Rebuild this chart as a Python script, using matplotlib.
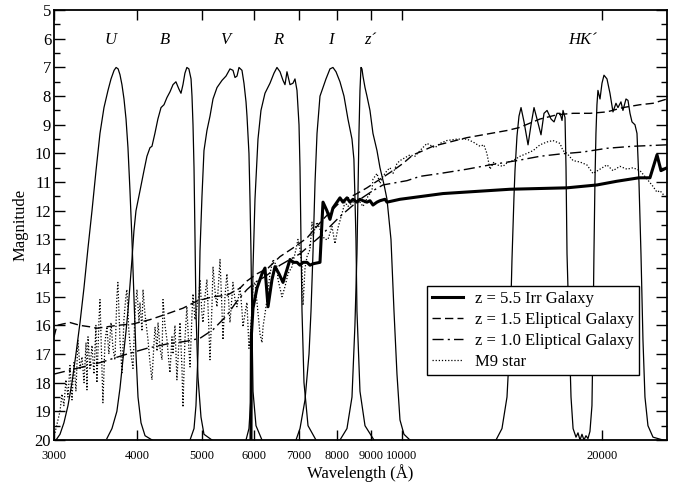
""" Magnitude vs wavelength: filter curves with galaxy / star templates """

import matplotlib
matplotlib.use("Agg")
import matplotlib.pyplot as plt
from matplotlib.ticker import FixedLocator, NullLocator, MultipleLocator

plt.rcParams['font.family'] = 'serif'
plt.rcParams['font.serif'] = ['Liberation Serif', 'DejaVu Serif']

# Filter transmission curves, drawn on the magnitude scale (wavelength in A, mag)
u_wl = [3021, 3063, 3105, 3149, 3193, 3237, 3283, 3328, 3375, 3422, 3470, 3518, 3567, 3617,
        3655, 3694, 3720, 3746, 3770, 3796, 3823, 3850, 3876, 3903, 3930, 3957, 3985, 4013,
        4055, 4112, 4214]
u_mag = [20.0, 19.8, 19.4, 18.8, 18.0, 17.0, 15.9, 14.7, 13.3, 12.0, 10.6, 9.3, 8.4, 7.8,
         7.4, 7.1, 7.0, 7.05, 7.25, 7.6, 8.1, 8.8, 9.8, 11.3, 13.0, 15.0, 17.0, 18.5,
         19.4, 19.85, 20.0]

b_wl = [3603, 3667, 3730, 3770, 3809, 3850, 3876, 3903, 3930, 3957, 3985, 4041, 4097, 4139,
        4183, 4212, 4255, 4299, 4346, 4391, 4436, 4483, 4530, 4576, 4623, 4657, 4689, 4721,
        4753, 4786, 4822, 4838, 4855, 4872, 4889, 4905, 4939, 4991, 5043, 5185]
b_mag = [19.95, 19.6, 19.0, 18.2, 17.2, 16.2, 15.5, 14.6, 13.7, 12.7, 12.0, 11.3, 10.6, 10.1,
         9.8, 9.75, 9.3, 8.8, 8.4, 8.3, 8.05, 7.85, 7.6, 7.5, 7.75, 7.9, 7.6, 7.2,
         7.0, 7.05, 7.4, 8.0, 9.0, 10.5, 13.0, 15.5, 17.8, 19.2, 19.8, 20.0]

v_wl = [4805, 4872, 4905, 4939, 4956, 4974, 5008, 5043, 5095, 5149, 5203, 5276, 5368, 5443,
        5518, 5576, 5615, 5654, 5693, 5752, 5792, 5833, 5853, 5893, 5914, 5934, 5955, 5976,
        6038, 6165]
v_mag = [20.0, 19.6, 18.8, 17.0, 15.5, 13.4, 11.5, 9.9, 9.2, 8.7, 8.1, 7.7, 7.45, 7.3,
         7.05, 7.1, 7.35, 7.3, 7.0, 7.1, 7.55, 8.2, 8.7, 10.0, 11.6, 13.4, 16.0, 18.3,
         19.5, 20.0]

r_wl = [5833, 5893, 5934, 5955, 5976, 6017, 6080, 6143, 6229, 6338, 6426, 6493, 6562, 6630,
        6676, 6722, 6793, 6863, 6911, 6959, 7008, 7032, 7056, 7081, 7130, 7230, 7432]
r_mag = [20.0, 19.6, 18.5, 16.5, 14.0, 11.6, 9.5, 8.5, 7.9, 7.55, 7.2, 7.0, 7.15, 7.45,
         7.6, 7.15, 7.6, 7.55, 7.4, 7.8, 9.0, 10.5, 13.0, 15.5, 18.0, 19.5, 20.0]

i_wl = [6935, 7032, 7155, 7255, 7305, 7357, 7408, 7459, 7536, 7615, 7694, 7801, 7882, 7966,
        8076, 8189, 8302, 8419, 8475, 8505, 8536, 8565, 8655, 8807, 9085]
i_mag = [20.0, 19.6, 18.6, 17.0, 15.5, 13.4, 11.0, 9.3, 8.0, 7.7, 7.4, 7.05, 7.0, 7.15,
         7.5, 8.0, 8.8, 9.5, 10.2, 11.5, 13.0, 15.5, 18.3, 19.5, 20.0]

z_wl = [8076, 8274, 8419, 8505, 8565, 8594, 8625, 8655, 8685, 8715, 8745, 8807, 8867, 8960,
        9053, 9180, 9276, 9409, 9504, 9636, 9737, 9838, 9941, 10079, 10291]
z_mag = [20.0, 19.6, 18.5, 16.0, 13.5, 11.5, 9.3, 7.8, 7.0, 7.05, 7.3, 7.7, 8.0, 8.5,
         9.3, 9.9, 10.5, 11.1, 11.6, 13.0, 15.5, 17.7, 19.3, 19.8, 20.0]

hk_wl = [13862, 14152, 14400, 14550, 14651, 14753, 14804, 14906, 15010, 15117, 15275, 15488,
         15650, 15812, 15977, 16200, 16369, 16543, 16773, 16948, 17124, 17303, 17423, 17483,
         17604, 17665, 17726, 17849, 17973, 18102, 18286, 18413, 18541, 18669, 18798, 18929,
         19060, 19192, 19325, 19392, 19459, 19526, 19594, 19662, 19730, 19871, 20009, 20147,
         20357, 20569, 20784, 21000, 21146, 21366, 21514, 21743, 21894, 22046, 22199, 22430,
         22586, 22742, 22900, 23058, 23218, 23460, 23873, 24713]
hk_mag = [20.0, 19.6, 18.5, 16.5, 13.7, 11.5, 10.6, 9.4, 8.7, 8.4, 8.9, 9.7,
          9.0, 8.4, 8.8, 9.35, 8.6, 8.5, 8.8, 8.9, 8.6, 8.6, 8.85, 8.5,
          8.75, 10.5, 13.5, 16.0, 18.5, 19.6, 19.9, 19.75, 20.0, 19.8, 20.0, 19.85,
          19.95, 19.7, 18.8, 16.5, 13.5, 11.0, 9.3, 8.3, 7.8, 8.1, 7.55, 7.27,
          7.4, 7.9, 8.55, 8.25, 8.4, 8.2, 8.5, 8.1, 8.15, 8.6, 8.9, 9.0,
          9.3, 11.0, 13.5, 16.5, 18.5, 19.5, 19.9, 20.0]

filters = [(u_wl, u_mag), (b_wl, b_mag), (v_wl, v_mag), (r_wl, r_mag),
           (i_wl, i_mag), (z_wl, z_mag), (hk_wl, hk_mag)]

band_names = ['U', 'B', 'V', 'R', 'I', 'z\u00b4', 'HK\u00b4']
band_centres = [3642, 4407, 5424, 6517, 7828, 8960, 18734]

# z = 5.5 irregular galaxy
irr_wl = [5934, 5944, 5976, 6059, 6165, 6229, 6295, 6382, 6449, 6539, 6630, 6722, 6793, 6863,
          6959, 7032, 7105, 7205, 7280, 7356, 7536, 7588, 7615, 7720, 7801, 7883, 7993, 8076,
          8160, 8274, 8360, 8448, 8565, 8655, 8746, 8868, 8960, 9054, 9180, 9276, 9437, 9504,
          9941, 11538, 14549, 17726, 19662, 21073, 22742, 23623, 24206, 24543, 25058]
irr_mag = [20.0, 16.3, 15.4, 14.7, 14.2, 14.0, 15.35, 14.4, 13.95, 14.2, 14.5, 14.05, 13.7, 13.8,
           13.8, 13.9, 13.8, 13.8, 13.9, 13.85, 13.8, 12.4, 11.7, 12.0, 12.3, 11.9, 11.7, 11.55,
           11.7, 11.55, 11.7, 11.6, 11.7, 11.6, 11.65, 11.7, 11.65, 11.8, 11.7, 11.65, 11.6, 11.7,
           11.6, 11.4, 11.25, 11.2, 11.1, 10.97, 10.85, 10.85, 10.05, 10.6, 10.5]

# z = 1.5 elliptical galaxy
e15_wl = [3000, 3031, 3095, 3171, 3283, 3398, 3480, 3730, 3944, 4183, 4436, 4689, 4922, 5203,
          5460, 5713, 5853, 6059, 6295, 6562, 6863, 7205, 7615, 8076, 8565, 8867, 9276, 9703,
          10044, 10398, 10654, 11144, 11819, 12532, 13249, 14400, 15010, 16141, 17124, 18102,
          19192, 20357, 21517, 22821, 23873, 25058]
e15_mag = [16.4, 16.0, 15.95, 15.9, 16.0, 16.05, 16.1, 16.0, 15.95, 15.8, 15.6, 15.4, 15.15, 15.0,
           14.95, 14.7, 14.45, 14.2, 14.0, 13.6, 13.3, 12.95, 12.3, 11.7, 11.4, 11.2, 10.9, 10.6,
           10.35, 10.05, 9.95, 9.75, 9.6, 9.45, 9.35, 9.2, 9.1, 8.8, 8.65, 8.6,
           8.6, 8.55, 8.4, 8.3, 8.25, 8.1]

# z = 1.0 elliptical galaxy
e10_wl = [3000, 3248, 3518, 3864, 4139, 4436, 4753, 4974, 5203, 5460, 5654, 5853, 6017, 6229,
          6562, 7032, 7536, 8076, 8655, 9053, 9372, 10185, 10654, 11418, 12532, 13575, 14906,
          16141, 17300, 18734, 20357, 22275, 25058]
e10_mag = [17.7, 17.5, 17.3, 17.0, 16.8, 16.65, 16.55, 16.45, 16.15, 15.65, 15.15, 14.75, 14.5, 14.3,
           13.9, 13.5, 12.9, 12.2, 11.6, 11.3, 11.1, 10.95, 10.8, 10.7, 10.55, 10.4, 10.25,
           10.1, 10.02, 9.95, 9.82, 9.75, 9.7]

# M9 star
m9_wl = [3010, 3042, 3063, 3084, 3105, 3127, 3149, 3171, 3193, 3215, 3237, 3259, 3283, 3306,
         3329, 3352, 3363, 3375, 3398, 3422, 3445, 3469, 3481, 3506, 3518, 3542, 3554, 3579,
         3603, 3628, 3655, 3680, 3705, 3730, 3743, 3770, 3796, 3822, 3848, 3861, 3888, 3916,
         3944, 3971, 3999, 4027, 4041, 4069, 4083, 4111, 4154, 4183, 4212, 4242, 4257, 4286,
         4301, 4331, 4361, 4376, 4406, 4436, 4467, 4483, 4514, 4530, 4561, 4592, 4624, 4641,
         4673, 4689, 4721, 4753, 4786, 4805, 4838, 4855, 4888, 4922, 4957, 4974, 5008, 5026,
         5060, 5095, 5131, 5149, 5185, 5203, 5239, 5275, 5312, 5331, 5368, 5386, 5423, 5460,
         5498, 5518, 5556, 5575, 5614, 5653, 5693, 5713, 5753, 5772, 5812, 5852, 5893, 5914,
         5955, 5976, 6017, 6059, 6123, 6165, 6187, 6229, 6272, 6338, 6404, 6493, 6516, 6562,
         6607, 6676, 6746, 6840, 6911, 6983, 7032, 7081, 7106, 7155, 7205, 7280, 7331, 7357,
         7408, 7459, 7536, 7615, 7668, 7748, 7856, 7937, 8020, 8132, 8218, 8301, 8447, 8595,
         8746, 8898, 9022, 9053, 9180, 9276, 9372, 9504, 9603, 9703, 9838, 9941, 10113, 10291,
         10469, 10654, 10914, 11221, 11418, 11695, 12110, 12532, 12802, 13113, 13294, 13432,
         13575, 13763, 13907, 14201, 14449, 14702, 15063, 15428, 15765, 16141, 16537, 16885,
         17300, 17480, 17724, 18102, 18541, 18989, 19394, 19871, 20352, 20786, 21293, 21817,
         22275, 22821, 23398, 23873, 24200, 24458, 24881, 25058]
m9_mag = [19.75, 19.3, 19.0, 18.4, 18.8, 17.9, 18.5, 17.4, 18.6, 17.3, 18.3, 16.5, 17.5, 17.1,
          18.0, 16.6, 18.25, 16.4, 17.5, 16.7, 17.7, 16.0, 18.0, 15.8, 15.1, 17.5, 18.7, 16.6,
          16.05, 17.0, 15.9, 16.8, 17.2, 15.0, 14.5, 16.5, 17.65, 15.8, 15.0, 14.75, 16.2, 17.0,
          17.5, 15.6, 14.75, 15.9, 15.2, 16.2, 14.75, 15.6, 16.5, 17.3, 17.9, 16.6, 16.05, 16.9,
          15.9, 16.8, 17.2, 15.1, 16.0, 16.5, 17.3, 17.65, 16.4, 17.0, 16.0, 17.9, 16.6, 15.9,
          17.5, 18.85, 16.5, 15.35, 16.8, 17.45, 15.6, 14.9, 15.8, 15.35, 14.9, 14.4, 15.6, 15.9,
          15.0, 14.4, 16.2, 17.2, 15.3, 13.95, 14.8, 15.35, 14.3, 13.7, 15.5, 16.5, 15.0, 14.2,
          15.3, 15.9, 15.0, 14.5, 15.1, 15.35, 14.9, 14.65, 15.5, 16.05, 15.6, 15.2, 16.8, 16.5,
          15.4, 14.65, 14.5, 15.2, 16.3, 16.6, 16.05, 15.6, 15.1, 14.2, 13.7, 13.95, 14.4, 14.7,
          15.0, 14.65, 14.2, 13.95, 13.5, 13.0, 13.35, 13.95, 15.3, 14.0, 13.6, 13.35, 12.4, 12.9,
          12.6, 12.4, 12.65, 12.9, 13.0, 13.0, 12.55, 13.15, 12.6, 12.1, 11.7, 11.85, 11.7, 11.6,
          11.85, 11.5, 11.3, 10.9, 10.7, 11.05, 10.8, 10.6, 10.5, 10.7, 10.35, 10.25, 10.15, 10.05,
          10.1, 9.9, 9.65, 9.8, 9.65, 9.55, 9.5, 9.5, 9.6, 9.75, 9.7, 10.0,
          10.55, 10.3, 10.4, 10.45, 10.3, 10.25, 10.1, 10.0, 9.9, 9.7, 9.6, 9.55,
          9.65, 9.9, 10.0, 10.25, 10.3, 10.4, 10.7, 10.55, 10.4, 10.6, 10.45, 10.55,
          10.5, 10.6, 10.9, 11.15, 11.35, 11.3, 11.5, 11.55]

x_ticks = [3000, 4000, 5000, 6000, 7000, 8000, 9000, 10000, 20000]
x_ticklabels = ['3000', '4000', '5000', '6000', '7000', '8000', '9000', '10000', '20000']

fig = plt.figure(figsize=(6.79, 4.83), dpi=100)
ax = fig.add_axes([0.0795, 0.089, 0.9028, 0.890])

for wl, mag in filters:
    ax.plot(wl, mag, color='k', linewidth=0.9)

ax.plot(irr_wl, irr_mag, color='k', linewidth=2.2, label='z = 5.5 Irr Galaxy')
ax.plot(e15_wl, e15_mag, color='k', linewidth=1.0, linestyle=(0, (6, 3)),
        label='z = 1.5 Eliptical Galaxy')
ax.plot(e10_wl, e10_mag, color='k', linewidth=1.0, linestyle=(0, (8, 3, 1.5, 3)),
        label='z = 1.0 Eliptical Galaxy')
ax.plot(m9_wl, m9_mag, color='k', linewidth=0.9, linestyle=(0, (1, 1.5)), label='M9 star')

for name, wl in zip(band_names, band_centres):
    ax.text(wl, 6.05, name, ha='center', va='center', fontsize=12, style='italic')

ax.set_xscale('log')
ax.set_xlim(3000, 25058)
ax.set_ylim(20, 5)

ax.xaxis.set_major_locator(FixedLocator(x_ticks))
ax.xaxis.set_minor_locator(NullLocator())
ax.set_xticklabels(x_ticklabels)
ax.yaxis.set_major_locator(MultipleLocator(1))
ax.yaxis.set_minor_locator(MultipleLocator(0.5))

ax.tick_params(axis='x', which='major', direction='in', top=True, length=7, width=1,
               labelsize=9, pad=7)
ax.tick_params(axis='y', which='major', direction='in', right=True, length=8, width=1,
               labelsize=12, pad=2)
ax.tick_params(axis='y', which='minor', direction='in', right=True, length=4, width=1)
for sp in ax.spines.values():
    sp.set_linewidth(1.3)

ax.set_xlabel('Wavelength (\u00c5)', fontsize=12, labelpad=2)
ax.set_ylabel('Magnitude', fontsize=12, labelpad=4)

leg = ax.legend(loc='lower left', bbox_to_anchor=(0.608, 0.151), borderaxespad=0,
                fontsize=12, fancybox=False, framealpha=1, edgecolor='k',
                handlelength=1.9, handletextpad=0.7, labelspacing=0.3, borderpad=0.3)
leg.get_frame().set_linewidth(1.0)

plt.savefig('out.png', dpi=100)
